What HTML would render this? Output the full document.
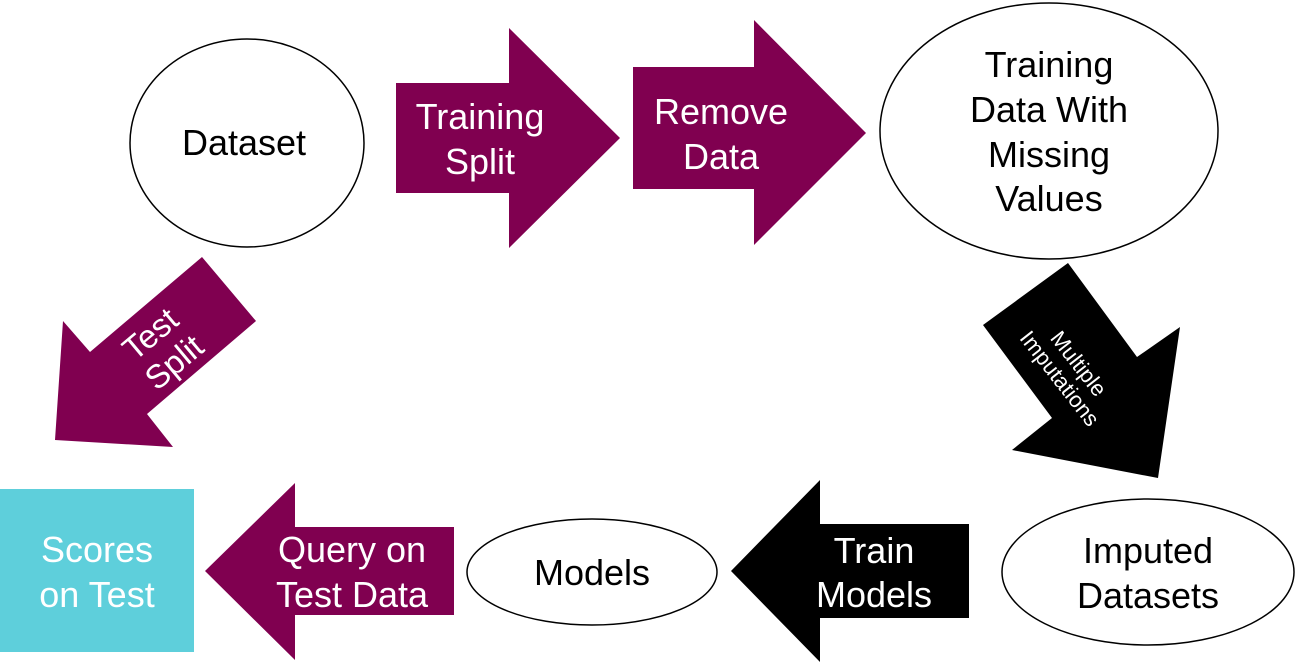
<!DOCTYPE html>
<html><head><style>
body{margin:0;width:1295px;height:665px;background:#fff;overflow:hidden}
svg text{font-family:"Liberation Sans",Arial,sans-serif}
</style></head><body>
<svg width="1295" height="665" viewBox="0 0 1295 665">
<g stroke="#000" stroke-width="1.5" fill="#fff">
<ellipse cx="247" cy="143" rx="117" ry="104"/>
<ellipse cx="1049" cy="131" rx="169" ry="128"/>
<ellipse cx="1148" cy="572" rx="146" ry="73"/>
<ellipse cx="592" cy="572" rx="125" ry="53"/>
</g>
<g fill="#800050">
<polygon points="396,83 509,83 509,28 620,138 509,248 509,193 396,193"/>
<polygon points="633,67 754,67 754,20 866,133 754,245 754,189 633,189"/>
<polygon points="454,527 295,527 295,483 205,571 295,660 295,615 454,615"/>
<polygon points="202,257 256,321 147,414 173,447 55,440 63,321 90,352"/>
</g>
<g fill="#000">
<polygon points="969,524 820,524 820,480 731,571 820,662 820,618 969,618"/>
<polygon points="1068,263 1137,357 1180,327 1158,478 1012,450 1052,418 983,325"/>
</g>
<rect x="0" y="489" width="194" height="163" fill="#5ecfdb"/>
<g font-size="36" text-anchor="middle">
<text x="244" y="155">Dataset</text>
<text x="1049" y="77">Training</text>
<text x="1049" y="122">Data With</text>
<text x="1049" y="167">Missing</text>
<text x="1049" y="211">Values</text>
<text x="1148" y="563">Imputed</text>
<text x="1148" y="608">Datasets</text>
<text x="592" y="585">Models</text>
</g>
<g font-size="36" text-anchor="middle" fill="#fff">
<text x="480" y="129">Training</text>
<text x="480" y="174">Split</text>
<text x="721" y="124">Remove</text>
<text x="721" y="169">Data</text>
<text x="874" y="563">Train</text>
<text x="874" y="607">Models</text>
<text x="352" y="562">Query on</text>
<text x="352" y="607">Test Data</text>
<text x="97" y="562">Scores</text>
<text x="97" y="607">on Test</text>
<g transform="translate(162,348) rotate(-40)" font-size="33">
<text x="0" y="-7">Test</text>
<text x="0" y="30">Split</text>
</g>
<g transform="translate(1068,372) rotate(52)" font-size="22">
<text x="0" y="-6">Multiple</text>
<text x="0" y="18">Imputations</text>
</g>
</g>
</svg>
</body></html>
